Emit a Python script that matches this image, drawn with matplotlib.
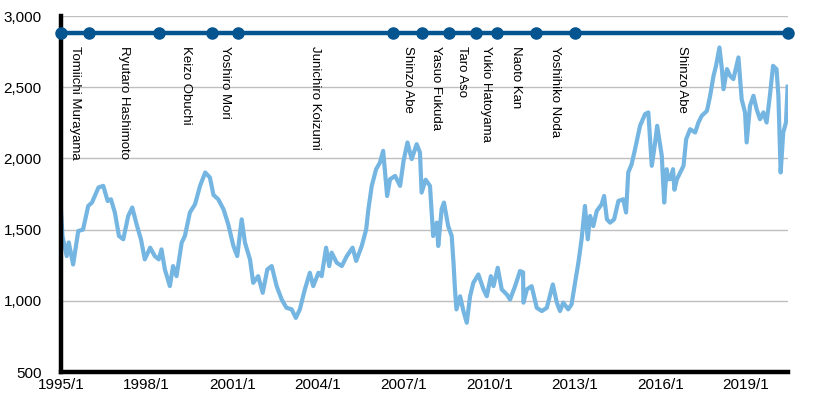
import matplotlib
matplotlib.use('Agg')
import matplotlib.pyplot as plt
import matplotlib.dates as mdates
import pandas as pd

plt.rcParams['font.family'] = ['Liberation Sans', 'DejaVu Sans']

# ---- index series ----
dates = [
    "1995-01-01", "1995-01-20", "1995-03-15", "1995-04-10", "1995-06-05", "1995-08-10",
    "1995-10-10", "1995-12-15", "1996-02-01", "1996-04-25", "1996-06-25", "1996-08-20",
    "1996-10-01", "1996-11-20", "1997-01-12", "1997-03-08", "1997-05-10", "1997-07-01",
    "1997-08-25", "1997-10-20", "1997-12-08", "1998-02-15", "1998-04-15", "1998-06-05",
    "1998-07-10", "1998-08-22", "1998-10-25", "1998-12-05", "1999-01-18", "1999-03-25",
    "1999-05-05", "1999-07-08", "1999-09-12", "1999-11-15", "2000-01-20", "2000-03-20",
    "2000-05-05", "2000-07-05", "2000-09-10", "2000-11-10", "2001-01-15", "2001-03-05",
    "2001-05-01", "2001-06-12", "2001-08-15", "2001-09-25", "2001-11-28", "2002-01-25",
    "2002-03-25", "2002-05-20", "2002-07-22", "2002-09-25", "2002-11-25", "2003-01-30",
    "2003-03-25", "2003-05-15", "2003-07-18", "2003-09-20", "2003-11-02", "2004-01-08",
    "2004-02-18", "2004-04-15", "2004-05-25", "2004-06-25", "2004-08-28", "2004-11-02",
    "2005-01-05", "2005-03-20", "2005-05-05", "2005-07-15", "2005-09-10", "2005-10-08",
    "2005-11-20", "2006-01-15", "2006-03-05", "2006-04-15", "2006-06-05", "2006-07-12",
    "2006-09-15", "2006-11-18", "2007-01-01", "2007-02-20", "2007-04-15", "2007-06-18",
    "2007-07-30", "2007-08-20", "2007-10-10", "2007-12-05", "2008-01-15", "2008-03-01",
    "2008-03-20", "2008-05-02", "2008-06-01", "2008-07-25", "2008-09-08", "2008-10-01",
    "2008-10-20", "2008-11-08", "2008-12-25", "2009-02-05", "2009-03-20", "2009-05-01",
    "2009-06-12", "2009-08-15", "2009-10-20", "2009-12-01", "2010-01-22", "2010-02-25",
    "2010-04-20", "2010-06-10", "2010-08-15", "2010-09-25", "2010-11-28", "2011-01-30",
    "2011-03-10", "2011-03-15", "2011-04-28", "2011-06-28", "2011-09-01", "2011-11-05",
    "2012-01-08", "2012-03-25", "2012-05-15", "2012-06-25", "2012-08-05", "2012-10-08",
    "2012-11-20", "2013-01-03", "2013-02-15", "2013-03-28", "2013-05-10", "2013-06-15",
    "2013-07-15", "2013-08-25", "2013-10-08", "2013-12-10", "2014-01-10", "2014-02-15",
    "2014-03-28", "2014-05-18", "2014-07-12", "2014-09-12", "2014-10-18", "2014-11-15",
    "2014-12-28", "2015-02-10", "2015-04-15", "2015-06-18", "2015-07-30", "2015-09-12",
    "2015-10-22", "2015-11-20", "2016-01-18", "2016-02-18", "2016-03-20", "2016-04-10",
    "2016-05-05", "2016-06-10", "2016-06-28", "2016-07-30", "2016-09-10", "2016-10-22",
    "2016-11-25", "2017-01-15", "2017-03-20", "2017-05-01", "2017-06-12", "2017-08-18",
    "2017-09-28", "2017-11-10", "2017-12-12", "2018-01-25", "2018-02-25", "2018-03-18",
    "2018-05-01", "2018-06-10", "2018-07-22", "2018-09-25", "2018-11-05", "2018-12-18",
    "2019-01-08", "2019-02-20", "2019-04-05", "2019-05-15", "2019-06-28", "2019-08-10",
    "2019-09-20", "2019-11-01", "2019-12-12", "2020-01-25", "2020-02-18", "2020-03-18",
    "2020-04-20", "2020-05-25", "2020-06-15",
]
values = [
    1631, 1455, 1314, 1410, 1255, 1490,
    1500, 1666, 1690, 1796, 1807, 1701,
    1713, 1620, 1455, 1432, 1596, 1655,
    1537, 1432, 1291, 1373, 1314, 1291,
    1361, 1220, 1103, 1244, 1173, 1408,
    1455, 1620, 1678, 1807, 1901, 1866,
    1743, 1713, 1643, 1537, 1385, 1314,
    1572, 1408, 1291, 1126, 1173, 1056,
    1220, 1244, 1103, 1009, 951, 940,
    880, 940, 1080, 1197, 1103, 1197,
    1173, 1373, 1244, 1338, 1268, 1244,
    1314, 1373, 1280, 1385, 1502, 1643,
    1807, 1924, 1971, 2053, 1736, 1854,
    1877, 1807, 1983, 2112, 1995, 2100,
    2041, 1760, 1850, 1807, 1455, 1549,
    1385, 1643, 1690, 1525, 1455, 1268,
    1080, 940, 1032, 928, 846, 1032,
    1126, 1185, 1080, 1032, 1173, 1103,
    1232, 1080, 1044, 1009, 1103, 1209,
    1200, 987, 1080, 1103, 951, 928,
    951, 1115, 987, 928, 987, 940,
    975, 1126, 1268, 1432, 1666, 1432,
    1596, 1525, 1631, 1678, 1736, 1572,
    1549, 1572, 1701, 1713, 1620, 1901,
    1959, 2065, 2229, 2311, 2323, 1948,
    2100, 2229, 2018, 1690, 1924, 1854,
    1854, 1924, 1780, 1854, 1901, 1948,
    2135, 2205, 2182, 2252, 2299, 2334,
    2440, 2580, 2650, 2779, 2627, 2486,
    2627, 2580, 2557, 2709, 2416, 2323,
    2112, 2369, 2440, 2346, 2275, 2323,
    2252, 2440, 2650, 2627, 2440, 1901,
    2182, 2252, 2504,
]

# ---- prime-minister timeline ----
pm_names = [
    "Tomiichi Murayama", "Ryutaro Hashimoto", "Keizo Obuchi", "Yoshiro Mori",
    "Junichiro Koizumi", "Shinzo Abe", "Yasuo Fukuda", "Taro Aso",
    "Yukio Hatoyama", "Naoto Kan", "Yoshihiko Noda", "Shinzo Abe",
]
pm_starts = [
    "1995-01-01", "1995-12-28", "1998-06-10", "2000-04-15",
    "2001-03-10", "2006-08-20", "2007-08-28", "2008-08-03",
    "2009-07-12", "2010-04-12", "2011-08-18", "2013-01-04",
]
timeline_end = "2020-06-20"
timeline_level = 2880

# ---- axis ----
tick_dates = ["1995-01-01", "1998-01-01", "2001-01-01", "2004-01-01",
              "2007-01-01", "2010-01-01", "2013-01-01", "2016-01-01", "2019-01-01"]
tick_labels = ["1995/1", "1998/1", "2001/1", "2004/1", "2007/1",
               "2010/1", "2013/1", "2016/1", "2019/1"]
y_ticks = [500, 1000, 1500, 2000, 2500, 3000]

line_color = "#74B5E2"
timeline_color = "#04558F"

fig = plt.figure(figsize=(8.2, 4.13), dpi=100)
ax = fig.add_axes([61 / 820, (413 - 372) / 413, (788 - 61) / 820, (372 - 16) / 413])

x = mdates.date2num(pd.to_datetime(dates))
ax.plot(x, values, color=line_color, lw=3.0, solid_joinstyle='round', zorder=3)

tl = list(mdates.date2num(pd.to_datetime(pm_starts + [timeline_end])))
ax.plot(tl, [timeline_level] * len(tl), color=timeline_color, lw=3.2,
        marker='o', markersize=8, zorder=6, clip_on=False)

for i, name in enumerate(pm_names):
    mid = (tl[i] + tl[i + 1]) / 2
    ax.text(mid, 2790, name, rotation=270, ha='center', va='top',
            fontsize=9.5, color='black', zorder=5)

ax.set_xlim(mdates.date2num(pd.Timestamp("1995-01-01")),
            mdates.date2num(pd.Timestamp(timeline_end)))
ax.set_ylim(500, 3000)

ax.set_xticks(mdates.date2num(pd.to_datetime(tick_dates)))
ax.set_xticklabels(tick_labels)
ax.set_yticks(y_ticks)
ax.set_yticklabels([f"{v:,}" for v in y_ticks])
ax.tick_params(axis='x', length=0, pad=4, labelsize=11)
ax.tick_params(axis='y', length=0, pad=14, labelsize=11)

ax.grid(axis='y', color='#BFBFBF', lw=1)
ax.set_axisbelow(True)
for s in ['top', 'right']:
    ax.spines[s].set_visible(False)
for s in ['left', 'bottom']:
    ax.spines[s].set_color('black')
    ax.spines[s].set_linewidth(3.2)
    ax.spines[s].set_zorder(4)

fig.savefig("out.png", dpi=100)
